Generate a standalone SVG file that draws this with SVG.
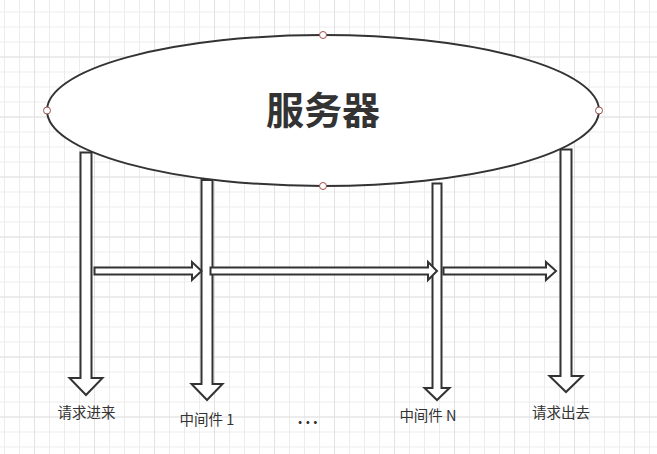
<svg xmlns="http://www.w3.org/2000/svg" width="657" height="454" viewBox="0 0 657 454">
  <defs>
    <pattern id="minor" x="4" y="11.5" width="15" height="15" patternUnits="userSpaceOnUse">
      <path d="M 0 0.5 H 15 M 0.5 0 V 15" fill="none" stroke="#ececec" stroke-width="1"/>
    </pattern>
    <pattern id="major" x="4" y="11.5" width="60" height="60" patternUnits="userSpaceOnUse">
      <path d="M 0 45.5 H 60 M 30.5 0 V 60" fill="none" stroke="#e2e2e2" stroke-width="1"/>
    </pattern>
  </defs>
  <style>
    .blk { fill: #ffffff; stroke: #333333; stroke-width: 2; stroke-linejoin: miter; }
    .ell { fill: #ffffff; stroke: #333333; stroke-width: 2; }
    .pt { fill: #ffffff; stroke: #a0504c; stroke-width: 1; }
    .lbl { font-family: "Noto Sans CJK SC", "Liberation Sans", sans-serif; font-size: 14.5px; fill: #333333; text-anchor: middle; }
    .title { font-family: "Noto Sans CJK SC", "Liberation Sans", sans-serif; font-size: 38px; font-weight: bold; fill: #333333; text-anchor: middle; }
  </style>
  <rect width="657" height="454" fill="#ffffff"/>
  <rect width="657" height="454" fill="url(#minor)"/>
  <rect width="657" height="454" fill="url(#major)"/>

  <g id="connectors">
    <polygon class="blk" points="80.5,152.5 91.5,152.5 91.5,378 102.5,378 86,395 69.5,378 80.5,378"/>
    <polygon class="blk" points="201.5,180 212.5,180 212.5,384 222.5,384 207,400 191.5,384 201.5,384"/>
    <polygon class="blk" points="432.5,183.5 441.5,183.5 441.5,388 449.5,388 437,400 424.5,388 432.5,388"/>
    <polygon class="blk" points="560.5,149.5 571.5,149.5 571.5,376 582.5,376 566,392 549.5,376 560.5,376"/>
    <polygon class="blk" points="94.5,267.5 192,267.5 192,262 201.5,271 192,280 192,274.5 94.5,274.5"/>
    <polygon class="blk" points="210.5,267.5 428,267.5 428,262 437,271 428,280 428,274.5 210.5,274.5"/>
    <polygon class="blk" points="443.5,267.5 546,267.5 546,262 556,271 546,280 546,274.5 443.5,274.5"/>
  </g>

  <g id="server">
    <ellipse class="ell" cx="323" cy="110.5" rx="276" ry="75.5"/>
    <text class="title" x="323" y="124">服务器</text>
    <circle class="pt" cx="323" cy="35" r="3.5"/>
    <circle class="pt" cx="323" cy="186" r="3.5"/>
    <circle class="pt" cx="47" cy="110.5" r="3.5"/>
    <circle class="pt" cx="599" cy="110.5" r="3.5"/>
  </g>

  <g id="label-in"><text class="lbl" x="86.5" y="418">请求进来</text></g>
  <g id="label-mw1"><text class="lbl" x="207" y="425">中间件 1</text></g>
  <g id="label-dots"><text class="lbl" x="309" y="424" style="font-weight:bold;font-size:16px;letter-spacing:2.5px">...</text></g>
  <g id="label-mwn"><text class="lbl" x="428" y="421">中间件 N</text></g>
  <g id="label-out"><text class="lbl" x="561" y="418">请求出去</text></g>
</svg>
